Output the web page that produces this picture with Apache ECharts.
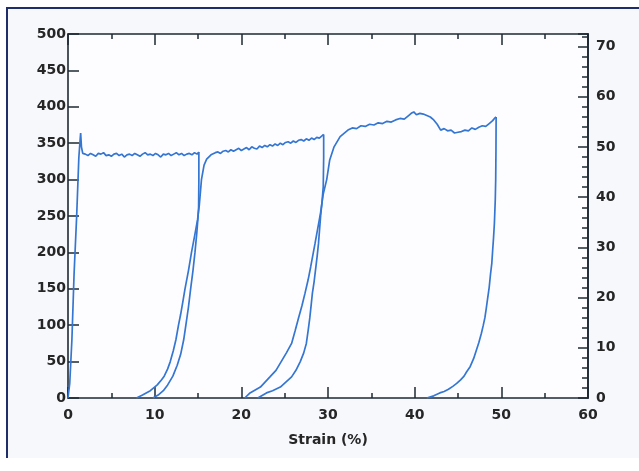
<!DOCTYPE html>
<html>
<head>
<meta charset="utf-8">
<script src="https://cdn.jsdelivr.net/npm/echarts@6/dist/echarts.min.js"></script>
<style>
  html, body { margin: 0; padding: 0; background: #ffffff; }
  #frame { position: absolute; left: 6px; top: 7px; width: 633px; height: 449px;
           background: #f7f8fc; border-left: 2px solid #1f2d6b; border-top: 2px solid #1f2d6b; }
  #chart { position: absolute; left: 0; top: 0; width: 639px; height: 471px; }
</style>
</head>
<body>
<div id="frame"></div>
<div id="chart"></div>
<script>
// ---- Data (strain in %, stress on left axis) ----
const load1Strain = [0, 0.2, 0.45, 0.7, 1.0, 1.25, 1.4, 1.46, 1.55, 1.7,
  2.0, 2.3, 2.6, 2.9, 3.2, 3.5, 3.8, 4.1, 4.4, 4.7, 5.0, 5.3, 5.6, 5.9, 6.2, 6.5, 6.8,
  7.1, 7.4, 7.7, 8.0, 8.3, 8.6, 8.9, 9.2, 9.5, 9.8, 10.1, 10.4, 10.7, 11.0, 11.3, 11.6,
  11.9, 12.2, 12.5, 12.8, 13.1, 13.4, 13.7, 14.0, 14.3, 14.6, 14.9, 15.1];
const load1Stress = [0, 20, 80, 170, 250, 330, 355, 364, 345, 336,
  335, 333, 336, 334, 332, 336, 335, 337, 333, 334, 332, 335, 336, 333, 335, 331, 334,
  335, 333, 336, 334, 332, 335, 337, 334, 335, 333, 336, 334, 331, 335, 334, 336,
  333, 335, 337, 334, 336, 333, 335, 336, 334, 337, 335, 338];

const unload1Strain = [15.1, 15.1, 15.07, 14.98, 14.85, 14.65, 14.42, 14.15, 13.9, 13.6, 13.35, 13.0, 12.6, 12.1, 11.5, 11.0, 10.4, 9.8];
const unload1Stress = [338, 300, 262, 245, 225, 200, 175, 150, 125, 100, 80, 60, 45, 30, 18, 10, 4, 0];

const reload1Strain = [7.9, 8.6, 9.5, 10.3, 10.8, 11.1, 11.5, 11.8, 12.15, 12.45, 12.75, 13.0, 13.25, 13.5, 13.9, 14.25, 14.6,
  14.95, 15.15, 15.4, 15.7, 16.0, 16.5,
  17.0, 17.3, 17.6, 17.9, 18.2, 18.5, 18.8, 19.1, 19.4, 19.7, 20.0, 20.3, 20.6, 20.9, 21.2, 21.5, 21.8,
  22.1, 22.4, 22.7, 23.0, 23.3, 23.6, 23.9, 24.2, 24.5, 24.8, 25.1, 25.4, 25.7, 26.0, 26.3, 26.6,
  26.9, 27.2, 27.5, 27.8, 28.1, 28.4, 28.7, 29.0, 29.3, 29.5];
const reload1Stress = [0, 4, 10, 18, 25, 30, 40, 50, 65, 80, 100, 115, 132, 150, 175, 200, 222,
  245, 265, 300, 320, 328, 334,
  337, 338, 336, 339, 340, 338, 341, 339, 341, 343, 340, 342, 344, 341, 345, 343, 342,
  346, 344, 347, 345, 348, 346, 349, 347, 350, 348, 351, 352, 350, 353, 351, 354,
  355, 353, 356, 354, 357, 355, 358, 357, 360, 362];

const unload2Strain = [29.5, 29.5, 29.45, 29.3, 29.15, 28.9, 28.75, 28.55, 28.4, 28.2, 28.05, 27.9, 27.7, 27.5, 27.2, 26.8, 26.3, 25.8, 24.5, 23.6, 22.9, 21.9];
const unload2Stress = [362, 330, 290, 268, 250, 212, 195, 175, 160, 144, 127, 110, 92, 75, 62, 50, 38, 29, 15, 10, 7, 0];

const reload2Strain = [20.4, 21.0, 22.2, 23.3, 24.0, 24.6, 25.2, 25.8, 26.2, 26.6, 27.0, 27.35, 27.7, 28.0, 28.5, 29.0, 29.15,
  29.45, 29.85, 30.2, 30.7, 31.4,
  32.3, 32.8, 33.3, 33.8, 34.3, 34.8, 35.3, 35.8, 36.3, 36.8, 37.3, 37.8, 38.3, 38.8, 39.3, 39.6, 39.9,
  40.2, 40.6, 41.0, 41.4, 41.8, 42.2, 42.6, 43.0, 43.4, 43.8, 44.2, 44.6, 45.0, 45.4, 45.8, 46.2, 46.6,
  47.0, 47.4, 47.8, 48.2, 48.6, 49.0, 49.2, 49.4];
const reload2Stress = [0, 7, 15, 29, 38, 50, 62, 75, 92, 110, 127, 144, 162, 180, 212, 245, 255,
  280, 300, 327, 345, 359,
  368, 371, 370, 374, 373, 376, 375, 378, 377, 380, 379, 382, 384, 383, 388, 391, 393,
  389, 391, 390, 388, 386, 382, 376, 368, 370, 367, 368, 364, 365, 366, 368, 367, 371,
  369, 372, 374, 373, 377, 381, 384, 386];

const unload3Strain = [49.4, 49.38, 49.35, 49.3, 49.2, 49.1, 49.0, 48.9, 48.75, 48.6, 48.4, 48.25, 48.1, 47.9, 47.7, 47.4, 47.1,
  46.8, 46.4, 46.0, 45.7, 45.3, 44.85, 44.4, 43.9, 43.4, 42.9, 42.2, 41.4];
const unload3Stress = [386, 340, 300, 272, 240, 220, 203, 185, 170, 152, 135, 122, 110, 99, 89, 76, 65,
  54, 43, 36, 30, 25, 20, 16, 12, 9, 7, 3, 0];

// ---- Axes ----
const xTicks = [0, 10, 20, 30, 40, 50, 60];
const leftTicks = [0, 50, 100, 150, 200, 250, 300, 350, 400, 450, 500];
const rightTicks = [0, 10, 20, 30, 40, 50, 60, 70];
const xAxisName = 'Strain (%)';
const rightMax = 500 / 6.895; // right scale equivalent of left 500

const segments = [
  [load1Strain, load1Stress],
  [unload1Strain, unload1Stress],
  [reload1Strain, reload1Stress],
  [unload2Strain, unload2Stress],
  [reload2Strain, reload2Stress],
  [unload3Strain, unload3Stress]
];

const axisColor = '#1e2833';
const labelStyle = { color: '#262626', fontFamily: 'DejaVu Sans', fontWeight: 'bold', fontSize: 14 };
const lineColor = '#3576d2';

const chart = echarts.init(document.getElementById('chart'), null, { renderer: 'canvas' });
chart.setOption({
  backgroundColor: 'transparent',
  animation: false,
  grid: [
    { left: 68, right: 51, top: 34, bottom: 73, show: true, backgroundColor: '#fdfdff', borderWidth: 0 }
  ],
  xAxis: [
    {
      type: 'value', position: 'bottom', min: xTicks[0], max: xTicks[xTicks.length - 1], interval: 10,
      name: xAxisName, nameLocation: 'middle', nameGap: 35,
      nameTextStyle: Object.assign({}, labelStyle),
      axisLine: { onZero: false, lineStyle: { color: axisColor, width: 1.6 } },
      axisTick: { inside: true, length: 11, lineStyle: { color: axisColor, width: 1.5 } },
      minorTick: { show: true, splitNumber: 2, length: 5, lineStyle: { color: axisColor, width: 1.5 } },
      axisLabel: Object.assign({ margin: 10 }, labelStyle),
      splitLine: { show: false }
    },
    {
      type: 'value', position: 'top', min: xTicks[0], max: xTicks[xTicks.length - 1], interval: 10,
      axisLine: { onZero: false, lineStyle: { color: axisColor, width: 1.6 } },
      axisTick: { inside: true, length: 11, lineStyle: { color: axisColor, width: 1.5 } },
      minorTick: { show: true, splitNumber: 2, length: 5, lineStyle: { color: axisColor, width: 1.5 } },
      axisLabel: { show: false },
      splitLine: { show: false }
    }
  ],
  yAxis: [
    {
      type: 'value', position: 'left', min: leftTicks[0], max: leftTicks[leftTicks.length - 1], interval: 50,
      axisLine: { show: true, onZero: false, lineStyle: { color: axisColor, width: 1.6 } },
      axisTick: { show: true, inside: true, length: 11, lineStyle: { color: axisColor, width: 1.5 } },
      minorTick: { show: false },
      axisLabel: Object.assign({ margin: 2 }, labelStyle),
      splitLine: { show: false }
    },
    {
      type: 'value', position: 'right', offset: 0, min: 0, max: rightMax, interval: 10,
      axisLine: { show: true, onZero: false, lineStyle: { color: axisColor, width: 1.6 } },
      axisTick: { show: true, inside: true, length: 10, lineStyle: { color: axisColor, width: 1.5 } },
      minorTick: { show: false },
      axisLabel: Object.assign({ margin: 8, formatter: v => (rightTicks.indexOf(Math.round(v * 1000) / 1000) >= 0 ? String(v) : '') }, labelStyle),
      splitLine: { show: false }
    },
    {
      type: 'value', position: 'right', offset: 0, min: 0, max: rightMax, interval: 2,
      axisLine: { show: true, onZero: false, lineStyle: { color: axisColor, width: 1.6 } },
      axisTick: { show: true, inside: true, length: 6, lineStyle: { color: axisColor, width: 1.5 } },
      minorTick: { show: false },
      axisLabel: { show: false },
      splitLine: { show: false }
    }
  ],
  series: segments.map(([xs, ys]) => ({
    type: 'line',
    xAxisIndex: 0,
    yAxisIndex: 0,
    showSymbol: false,
    symbol: 'none',
    smooth: false,
    lineStyle: { color: lineColor, width: 1.7 },
    data: xs.map((x, i) => [x, ys[i]]),
    z: 3
  }))
});
</script>
</body>
</html>
